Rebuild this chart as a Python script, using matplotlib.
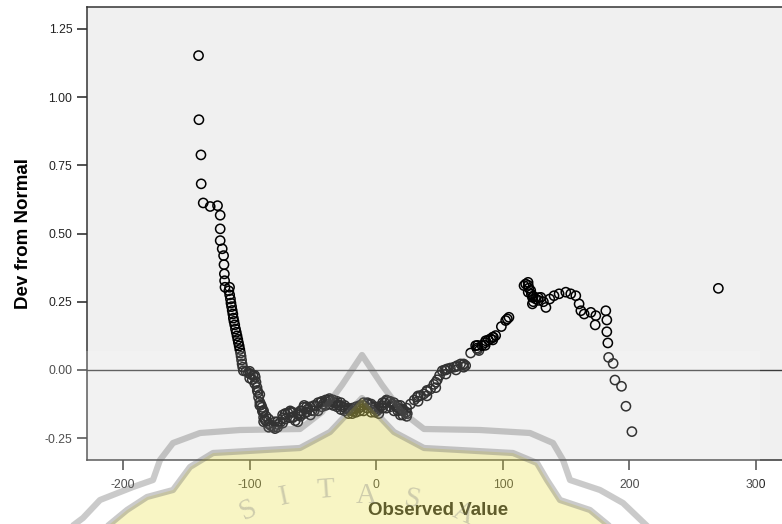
import matplotlib.pyplot as plt
from matplotlib.patches import Polygon, Rectangle
from matplotlib.lines import Line2D

# Detrended normal Q-Q values: observed value vs deviation from normal
observed = [
    -140.4, -140.1, -138.5, -138.3, -136.7, -131.2, -125.4, -123.3, -123.3, -123.3,
    -121.7, -120.6, -120.3, -120.0, -119.8, -119.5, -115.9, -116.5, -115.8, -115.2,
    -114.8, -114.3, -113.8, -113.3, -112.9, -112.4, -111.8, -111.2, -110.6, -110.0,
    -109.4, -108.9, -108.3, -107.8, -107.2, -106.8, -106.4, -106.0, -105.5, -105.0,
    -103.0, -101.0, -99.5, -97.5, -95.6, -95.0, -94.2, -93.5, -93.0, -92.0,
    -91.0, -90.3, -89.5, -89.0, -88.0, -87.0, -85.0, -83.0, -81.0, -78.0,
    -75.8, -73.5, -71.8, -69.8, -67.9, -66.0, -64.0, -61.0, -59.0, -57.4,
    -54.0, -50.7, -47.5, -44.1, -42.0, -40.0, -38.0, -36.2, -34.0, -32.0,
    -30.0, -28.3, -26.0, -24.5, -22.0, -20.4, -18.0, -16.5, -14.0, -12.5,
    -10.0, -7.2, -5.0, -3.5, -1.0, 0.7, 2.5, 4.5, 6.5, 8.6,
    10.5, 12.5, 14.5, 16.5, 18.0, 20.0, 21.5, 23.5, 24.5, 27.0,
    30.0, 32.3, 35.0, 37.6, 40.0, 42.9, 45.5, 48.2, 50.0, 52.1,
    54.0, 56.1, 58.5, 61.3, 64.0, 66.6, 68.5, 70.6, 74.5, 78.5,
    79.5, 81.1, 83.5, 86.4, 88.5, 90.3, 92.5, 94.3, 98.8, 102.2,
    103.5, 104.8, 116.7, 118.0, 119.9, 120.5, 122.0, 122.5, 123.3, 123.3,
    126.0, 130.0, 132.0, 134.0, 137.0, 140.4, 144.4, 149.7, 153.6, 157.6,
    160.2, 161.6, 164.2, 169.5, 173.4, 172.9, 181.3, 182.1, 182.1, 182.9,
    183.5, 187.1, 188.5, 193.7, 197.2, 201.9, 270.2,
    # tied values stacked along the dense stretches
    -100.0, -100.0, -96.0, -96.0, -92.0, -92.0, -89.0, -89.0, -85.0, -85.0,
    -80.0, -80.0, -74.0, -74.0, -68.0, -68.0, -62.0, -62.0, -57.0, -57.0,
    -52.0, -52.0, -46.0, -46.0, -40.0, -40.0, -34.0, -34.0, -28.0, -28.0,
    -22.0, -22.0, -16.0, -16.0, -10.0, -10.0, -4.0, -4.0, 2.0, 2.0,
    8.0, 8.0, 14.0, 14.0, 19.0, 19.0, 24.0, 24.0, 33.0, 33.0,
    40.0, 40.0, 47.0, 47.0, 55.0, 55.0, 63.0, 63.0, 69.0, 69.0,
    80.0, 80.0, 86.0, 86.0, 92.0, 92.0, 120.0, 120.0, 124.0, 124.0,
    128.0, 128.0,
    -78.0, -78.0, -72.0, -72.0, -66.0, -66.0, -60.0, -60.0, -55.0, -55.0,
    -49.0, -49.0, -43.0, -43.0, -37.0, -37.0, -31.0, -31.0, -25.0, -25.0,
    -19.0, -19.0, -13.0, -13.0, -7.0, -7.0, -1.0, -1.0, 5.0, 5.0,
    11.0, 11.0, 17.0, 17.0, 21.0, 21.0, -98.0, -94.0, -90.0, -87.0,
]
deviation = [
    1.152, 0.917, 0.788, 0.682, 0.612, 0.599, 0.602, 0.567, 0.517, 0.474,
    0.444, 0.419, 0.386, 0.352, 0.327, 0.303, 0.303, 0.290, 0.275, 0.260,
    0.245, 0.232, 0.218, 0.205, 0.190, 0.178, 0.165, 0.150, 0.138, 0.125,
    0.112, 0.100, 0.088, 0.075, 0.062, 0.050, 0.036, 0.022, 0.010, -0.003,
    -0.005, -0.010, -0.015, -0.020, -0.027, -0.045, -0.064, -0.082, -0.100, -0.118,
    -0.128, -0.137, -0.155, -0.174, -0.182, -0.188, -0.198, -0.205, -0.210, -0.200,
    -0.192, -0.175, -0.161, -0.158, -0.155, -0.172, -0.186, -0.165, -0.150, -0.137,
    -0.143, -0.149, -0.133, -0.119, -0.125, -0.116, -0.110, -0.113, -0.118, -0.122,
    -0.128, -0.131, -0.136, -0.140, -0.146, -0.149, -0.150, -0.143, -0.140, -0.137,
    -0.130, -0.125, -0.128, -0.137, -0.145, -0.149, -0.140, -0.131, -0.120, -0.113,
    -0.118, -0.125, -0.130, -0.137, -0.142, -0.148, -0.150, -0.155, -0.160, -0.125,
    -0.110, -0.100, -0.094, -0.088, -0.079, -0.070, -0.053, -0.036, -0.020, -0.003,
    0.000, 0.004, 0.007, 0.010, 0.016, 0.022, 0.019, 0.016, 0.062, 0.089,
    0.080, 0.071, 0.090, 0.107, 0.110, 0.114, 0.120, 0.126, 0.159, 0.181,
    0.187, 0.193, 0.309, 0.315, 0.321, 0.300, 0.291, 0.278, 0.266, 0.242,
    0.260, 0.266, 0.250, 0.229, 0.260, 0.272, 0.279, 0.285, 0.279, 0.272,
    0.242, 0.217, 0.205, 0.211, 0.199, 0.165, 0.217, 0.183, 0.140, 0.099,
    0.046, 0.024, -0.037, -0.060, -0.133, -0.226, 0.299,
    -0.005, -0.030, -0.020, -0.050, -0.090, -0.130, -0.150, -0.190, -0.180, -0.210,
    -0.190, -0.215, -0.165, -0.195, -0.150, -0.175, -0.160, -0.190, -0.130, -0.160,
    -0.135, -0.165, -0.120, -0.150, -0.110, -0.130, -0.110, -0.130, -0.120, -0.145,
    -0.140, -0.160, -0.135, -0.155, -0.120, -0.150, -0.125, -0.155, -0.135, -0.160,
    -0.110, -0.140, -0.120, -0.150, -0.130, -0.165, -0.140, -0.170, -0.095, -0.115,
    -0.075, -0.095, -0.045, -0.065, 0.000, -0.015, 0.012, 0.000, 0.022, 0.010,
    0.090, 0.075, 0.100, 0.090, 0.120, 0.110, 0.310, 0.285, 0.270, 0.250,
    0.265, 0.255,
    -0.190, -0.210, -0.160, -0.180, -0.155, -0.175, -0.150, -0.170, -0.135, -0.155,
    -0.130, -0.150, -0.115, -0.135, -0.105, -0.125, -0.115, -0.135, -0.130, -0.150,
    -0.140, -0.160, -0.130, -0.150, -0.120, -0.140, -0.135, -0.155, -0.120, -0.140,
    -0.115, -0.135, -0.130, -0.150, -0.145, -0.165, -0.035, -0.075, -0.150, -0.170,
]

xticks = [-200, -100, 0, 100, 200, 300]
yticks = [-0.25, 0.0, 0.25, 0.5, 0.75, 1.0, 1.25]
ytick_labels = ['-0.25', '0.00', '0.25', '0.50', '0.75', '1.00', '1.25']

plt.rcParams['font.family'] = ['Liberation Sans', 'DejaVu Sans']

W, H = 782, 524
fig = plt.figure(figsize=(W / 100, H / 100), dpi=100)
ax = fig.add_axes([87 / W, 1 - 460 / H, (789 - 87) / W, (460 - 7) / H])
ax.set_facecolor('#f0f0f0')

ax.axhline(0, color='#3a3a3a', lw=1.0, zorder=1)
ax.scatter(observed, deviation, s=44, facecolors='none', edgecolors='black',
           linewidths=1.1, zorder=3)

ax.set_xlim(-228.5, 326)
ax.set_ylim(-0.33, 1.33)
ax.set_xticks(xticks)
ax.set_xticklabels([str(t) for t in xticks])
ax.set_yticks(yticks)
ax.set_yticklabels(ytick_labels)

ax.spines['right'].set_visible(False)
for side in ['left', 'bottom', 'top']:
    ax.spines[side].set_color('#333333')
    ax.spines[side].set_linewidth(1.1)

ax.tick_params(axis='both', direction='out', length=7.5, width=1.1,
               color='#222222', labelsize=8.7, labelcolor='#222222')
ax.tick_params(axis='x', pad=6)
ax.tick_params(axis='y', pad=3)

ax.set_xlabel('Observed Value', fontsize=13.5, fontweight='bold')
ax.xaxis.set_label_coords(0.5, -(502 - 460) / 453)
ax.set_ylabel('Dev from Normal', fontsize=13.5, fontweight='bold')
ax.yaxis.set_label_coords((32.5 - 87) / 702, 0.5)


# faint logo stamped over the lower half of the figure
def px(points):
    return [(x / W, 1 - y / H) for x, y in points]


outer = [(75, 524), (83, 518), (100, 500), (133, 487), (153, 480), (160, 460),
         (173, 443), (200, 433), (240, 430), (300, 429), (322, 412), (342, 385),
         (362, 355), (382, 385), (402, 412), (424, 429), (480, 430), (530, 433),
         (553, 443), (563, 460), (570, 480), (600, 490), (623, 503), (645, 524)]
inner = [(110, 524), (127, 510), (147, 497), (173, 490), (190, 467), (213, 453),
         (300, 448), (330, 432), (348, 413), (362, 398), (376, 413), (394, 432),
         (424, 448), (513, 453), (537, 463), (547, 480), (560, 500), (590, 510),
         (607, 524)]

fig.add_artist(Rectangle((0, 0), 760 / W, 1 - 351 / H, transform=fig.transFigure,
                         facecolor='white', edgecolor='none', alpha=0.2, zorder=5))
fig.add_artist(Polygon(px(inner), closed=True, transform=fig.transFigure,
                       facecolor='#e7db17', edgecolor='none', alpha=0.25, zorder=6))
for line in (outer, inner):
    xs, ys = zip(*px(line))
    fig.add_artist(Line2D(xs, ys, transform=fig.transFigure, color='#606060',
                          lw=4.5, alpha=0.33, solid_joinstyle='round', zorder=7))

letters = [('S', 248, 510, 25), ('I', 284, 497, 12), ('T', 326, 490, 4),
           ('A', 366, 496, 0), ('S', 412, 500, -12), ('A', 463, 514, -25)]
for ch, x, y, rot in letters:
    fig.text(x / W, 1 - y / H, ch, fontsize=21, family='Liberation Serif',
             color='#808080', alpha=0.35, ha='center', va='center',
             rotation=rot, zorder=8)

fig.savefig('out.png', dpi=100)
